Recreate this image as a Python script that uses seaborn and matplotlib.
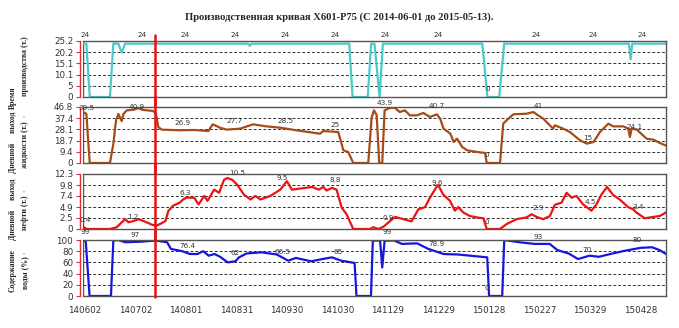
import numpy as np
import pandas as pd
import matplotlib
matplotlib.use("Agg")
import matplotlib.pyplot as plt
import matplotlib.dates as mdates
import seaborn as sns

# ---------------- data ----------------
start_date = "2014-06-01"
end_date = "2015-05-13"

title = "Производственная кривая X601-P75 (С 2014-06-01 до 2015-05-13)"

# day offsets from start_date
time_days = [0, 2, 4, 16, 18, 21, 23, 25, 98, 99, 100, 158, 160, 169, 171, 173, 176, 178,
             237, 240, 247, 250, 324, 325, 326, 346]
time_vals = [24, 24, 0, 0, 24, 24, 20, 24, 24, 23, 24, 24, 0, 0, 24, 24, 0, 24,
             24, 0, 0, 24, 24, 17, 24, 24]

liq_days = [0, 1, 2, 4, 16, 18, 19.6, 21, 23, 24, 26, 30, 33, 35, 38, 41.7, 43.3, 44.7, 46.7,
            57.6, 66, 74.4, 77, 81.3, 85.3, 93.2, 101, 109, 117, 126.8, 140.6, 142.6, 151.5,
            154.5, 157.4, 160.4, 169.3, 171.3, 172.7, 174.3, 175.8, 177.6, 179, 182, 185, 188,
            191, 194, 198, 202, 206, 210, 212, 214, 218, 220, 222, 225, 228, 234, 238.6, 239.6,
            247.5, 249.4, 251.4, 255.4, 263.3, 267.3, 269.2, 273.2, 279, 280, 285, 289, 295,
            299, 303, 306.8, 311.8, 314.7, 320.7, 323.6, 324.6, 325.6, 328.6, 334.5, 338.5,
            342.4, 346]
liq_vals = [41, 42, 41, 0, 0, 16, 35.6, 41, 35, 41, 44, 44.5, 46, 44.5, 44, 43.5, 41, 30, 27.9,
            27.3, 27.6, 26.7, 32.3, 29.5, 27.9, 28.7, 32.3, 30.6, 29.5, 27.3, 24.5, 26.7, 25.9,
            10.6, 9.2, 0, 0, 38, 44, 40, 0, 0, 44, 46, 46.2, 42.6,
            44, 39.8, 39.8, 41.8, 38.4, 40.7, 37, 28.7, 24.5, 17.5, 20.3, 13.4, 10.6, 9.2, 8.4, 0,
            0, 32.9, 35.7, 40.7, 41.2, 42.6, 40.7, 37, 28.7, 31.5, 28.7, 25.9, 18.9,
            16.2, 17.5, 25.9, 32.9, 30.6, 30.6, 28.7, 21.7, 28.7, 27.9, 20.3, 19.5,
            16.7, 14.5]

oil_days = [0, 2.2, 16, 20, 23, 25, 27, 30, 33, 35, 37.8, 40.7, 43.3, 46.7, 49, 50.6, 53.4, 57.4,
            59.4, 61.3, 66, 68.6, 72, 73.9, 77.8, 80.8, 83.7, 85.7, 88.6, 91.5, 95.5, 99.4,
            102.4, 105.3, 111.2, 117.1, 121, 124, 130, 136, 140, 142.6, 144.6, 147.6, 150.5,
            153.5, 156.4, 160.4, 170.3, 172.3, 175.3, 178.3, 182.3, 185.2, 188.2, 192.1, 195,
            199, 203, 205.9, 209.8, 210.8, 213.8, 217.8, 220.7, 222.7, 225.7, 229.6, 233.6,
            237.6, 239.6, 247.5, 251.4, 257.3, 263.3, 266.2, 269.2, 273.2, 277.1, 280, 284, 287,
            290, 292.8, 296.8, 301.7, 304.7, 307.7, 311, 314.6, 318.5, 323.5, 326.5, 328.4,
            333.4, 338.3, 342.3, 346]
oil_vals = [0.5, 0, 0, 0.4, 1.5, 2.2, 1.5, 1.8, 2.2, 1.9, 1.5, 1.0, 0.7, 1.3, 1.8, 4.0, 5.2, 5.9,
            6.6, 7.0, 7.0, 5.5, 7.4, 6.3, 8.8, 8.1, 11.0, 11.4, 11.0, 9.9, 7.7, 6.6,
            7.4, 6.6, 7.4, 8.8, 10.7, 8.8, 9.1, 9.4, 8.8, 9.4, 8.6, 9.2, 8.8,
            4.8, 3.3, 0, 0, 0.4, 0, 0.5, 1.8, 2.7, 2.4, 2.0, 1.7,
            4.4, 4.9, 7.0, 9.4, 9.8, 7.7, 6.3, 4.1, 4.9, 3.7, 2.9, 2.6,
            2.4, 0, 0, 1.1, 2.2, 2.6, 3.3, 2.7, 2.2, 2.9, 5.4, 5.9, 8.1,
            7.0, 7.4, 5.5, 4.1, 5.5, 7.7, 9.4, 7.6, 6.6, 4.9, 4.4, 3.7,
            2.4, 2.7, 2.9, 3.7]

wat_days = [0, 1.6, 3.9, 16.6, 18, 20.7, 25.2, 34.2, 43.2, 49.9, 52.2, 58.9, 63.4, 67.9, 71.3,
            74.6, 78, 81.4, 85.9, 90.4, 92.6, 97.1, 106.1, 115.1, 121.8, 126.3, 135.4, 142.1,
            147.7, 153.3, 161.2, 162.3, 170.9, 172, 176.3, 177.6, 179, 184.8, 189.3, 198.3, 205,
            214, 223, 239.9, 241, 248.8, 250, 259, 268, 277, 281.5, 288.2, 293.8, 300.6, 306.2,
            312.9, 321.9, 330.9, 337.7, 342.2, 346]
wat_vals = [99, 99, 0, 0, 99, 100, 96, 97, 99, 96, 84, 80, 75, 75, 80,
            72, 75, 70, 60, 62, 69, 76, 78, 74, 63, 68, 62, 66,
            69, 63, 59, 0, 0, 99, 99, 51, 99, 99, 93, 94, 84,
            75, 74, 69, 0, 0, 100, 96, 93, 93, 82, 76, 66, 72, 70,
            75, 81, 86, 87, 82, 75]

marker_day = 43  # red vertical marker (days from start)

y_ticks = [[0, 5, 10.1, 15.1, 20.2, 25.2],
           [0, 9.4, 18.7, 28.1, 37.4, 46.8],
           [0, 2.5, 4.9, 7.4, 9.8, 12.3],
           [0, 20, 40, 60, 80, 100]]
y_tick_labels = [["0", "5", "10.1", "15.1", "20.2", "25.2"],
                 ["0", "9.4", "18.7", "28.1", "37.4", "46.8"],
                 ["0", "2.5", "4.9", "7.4", "9.8", "12.3"],
                 ["0", "20", "40", "60", "80", "100"]]

x_tick_labels = ["140602", "140702", "140801", "140831", "140930", "141030",
                 "141129", "141229", "150128", "150227", "150329", "150428"]

# value annotations: (day, y, text)
ann1 = [(1.2, 27.9, "24"), (35, 27.9, "24"), (60.5, 27.9, "24"), (90, 27.9, "24"),
        (120, 27.9, "24"), (149.5, 27.9, "24"), (179, 27.9, "24"), (210.7, 27.9, "24"),
        (240, 3.6, "0"), (269, 27.9, "24"), (302.7, 27.9, "24"), (331.8, 27.9, "24")]
ann2 = [(1.8, 46, "39.5"), (32, 46.8, "40.9"), (59.3, 33.4, "26.9"), (90.2, 35.1, "27.7"),
        (120, 35.1, "28.5"), (149.6, 31.8, "25"), (179.2, 50.1, "43.9"), (210, 47.6, "40.7"),
        (239.8, 6.7, "0"), (270, 47.6, "41"), (299.7, 20.9, "15"), (327.6, 30.1, "24.1")]
ann3 = [(1.2, 2.0, "0.4"), (29.7, 2.7, "1.2"), (60.5, 8.05, "6.3"), (91.4, 12.5, "10.5"),
        (118.1, 11.4, "9.5"), (149.6, 10.96, "8.8"), (181, 2.46, "0.9"), (210, 10.3, "9.6"),
        (239.8, 1.57, "0"), (270, 4.7, "2.9"), (301, 6.04, "4.5"), (329.4, 4.9, "3.4")]
ann4 = [(1.2, 114, "99"), (30.9, 109, "97"), (61.7, 89.3, "76.4"), (90.2, 76.8, "62"),
        (118.7, 78.6, "66.5"), (151.3, 78.6, "65"), (180.4, 114, "99"), (210, 92.9, "78.9"),
        (239.8, 14.3, "0"), (270, 105, "93"), (299, 82, "70"), (328.8, 100, "80")]

# ---------------- drawing ----------------
sns.set_style("white")
plt.rcParams['font.family'] = ['DejaVu Sans']

W, H = 679, 328
fig = plt.figure(figsize=(W / 100, H / 100), dpi=100)

t0 = pd.Timestamp(start_date)
def to_dates(days):
    return [t0 + pd.Timedelta(days=float(d)) for d in days]

series = [(time_days, time_vals, "#4CCACA"),
          (liq_days, liq_vals, "#A64B17"),
          (oil_days, oil_vals, "#EE1111"),
          (wat_days, wat_vals, "#1515E0")]
anns = [ann1, ann2, ann3, ann4]

# axes rectangles in pixels: (top, bottom)
rects = [(41, 97), (107, 163), (174, 229), (240, 296)]
left_px, right_px = 83, 666

tick_dates = [t0 + pd.Timedelta(days=1 + 30 * i) for i in range(len(x_tick_labels))]
xmin, xmax = pd.Timestamp(start_date), pd.Timestamp(end_date)

axes = []
for i, ((top, bot), (dd, vv, col), ann) in enumerate(zip(rects, series, anns)):
    ax = fig.add_axes([left_px / W, 1 - bot / H, (right_px - left_px) / W, (bot - top) / H])
    axes.append(ax)
    df = pd.DataFrame({"date": to_dates(dd), "value": vv})
    sns.lineplot(data=df, x="date", y="value", ax=ax, color=col, linewidth=1.6,
                 estimator=None, sort=False)
    ax.set_xlim(xmin, xmax)
    ax.set_ylim(0, y_ticks[i][-1])
    ax.set_yticks(y_ticks[i])
    ax.set_yticklabels(y_tick_labels[i])
    for yv in y_ticks[i][1:-1]:
        ax.axhline(yv, color="#333333", linestyle=(0, (3, 2)), linewidth=0.7, zorder=0)
    ax.set_xlabel("")
    ax.set_ylabel("")
    for s in ax.spines.values():
        s.set_color("#555555")
        s.set_linewidth(1.0)
    ax.spines['left'].set_color("#E03030")
    ax.spines['left'].set_position(('outward', 2))
    ax.axvline(xmin, color="#555555", linewidth=1.0, zorder=1)
    ax.tick_params(axis='y', left=True, length=3, width=0.8, color="#E03030",
                   labelsize=6.3, labelcolor="#333333", pad=2)
    ax.set_xticks(tick_dates)
    if i == 3:
        ax.set_xticklabels(x_tick_labels)
        ax.tick_params(axis='x', bottom=False, labelsize=6.3, labelcolor="#333333", pad=4)
    else:
        ax.set_xticklabels([])
        ax.tick_params(axis='x', bottom=False)
    for d, y, txt in ann:
        ax.text(t0 + pd.Timedelta(days=d), y, txt, fontsize=5.2, color="#333333",
                ha="center", va="center", clip_on=False, zorder=5)

# red vertical marker line spanning all panels
md = t0 + pd.Timedelta(days=marker_day)
ext = [(1.11, -0.2), (1.2, -0.2), (1.2, -0.2), (1.2, -0.01)]
for ax, (ymx, ymn) in zip(axes, ext):
    ax.axvline(md, ymin=ymn, ymax=ymx, color="#E81010", linewidth=1.8, clip_on=False, zorder=6)

# title
fig.text(0.5, 1 - 17 / H, title + ".", ha="center", va="center", fontsize=7.6,
         fontweight="bold", family=["Liberation Serif", "DejaVu Serif"])

# y labels (two columns, rotated)
serif = ["Liberation Serif", "DejaVu Serif"]
ylab = [("Время", 98, "производства (т.)", 66),
        ("Дневной     выход", 142, "жидкости (т.)", 145),
        ("Дневной     выход", 209, "нефти (т.)", 213),
        ("Содержание", 271, "воды (%)", 273)]
for l1, y1, l2, y2 in ylab:
    fig.text(13 / W, 1 - y1 / H, l1, rotation=90, ha="center", va="center", fontsize=5.6,
             fontweight="bold", family=serif)
    fig.text(25 / W, 1 - y2 / H, l2, rotation=90, ha="center", va="center", fontsize=5.6,
             fontweight="bold", family=serif)

# small marks next to the labels
for ym in (116, 191, 253):
    fig.text(25 / W, 1 - ym / H, "з", rotation=90, ha="center", va="center", fontsize=3.5,
             color="#666666", family=serif)

fig.savefig("out.png", dpi=100)
